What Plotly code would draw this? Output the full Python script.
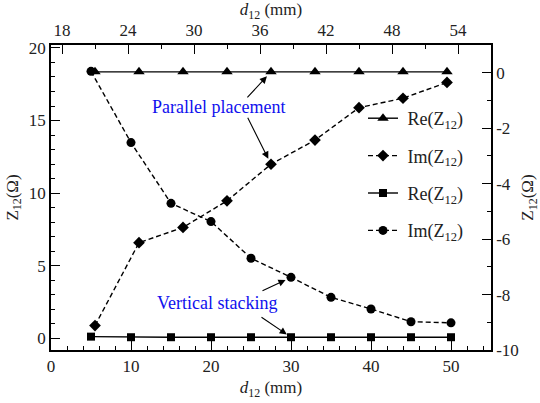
import plotly.graph_objects as go

# ---- data ----
d_parallel = [21, 25, 29, 33, 37, 41, 45, 49, 53]          # top axis (mm)
re_parallel = [18.35, 18.35, 18.35, 18.35, 18.35, 18.35, 18.35, 18.35, 18.35]
im_parallel = [-9.12, -6.13, -5.58, -4.62, -3.30, -2.43, -1.26, -0.92, -0.35]

d_vertical = [5, 10, 15, 20, 25, 30, 35, 40, 45, 50]       # bottom axis (mm)
re_vertical = [0.12, 0.08, 0.08, 0.08, 0.08, 0.08, 0.08, 0.08, 0.08, 0.08]
im_vertical = [0.05, -2.52, -4.71, -5.37, -6.69, -7.38, -8.10, -8.52, -8.98, -9.02]

y2_ticks = [0, -2, -4, -6, -8, -10]
y2_ticklabels = ["0", "-2", "-4", "-6", "-8", "-10"]

FONT = "Liberation Serif"
TXT = "#222"
LW = 1.4
DASH = "5px,3px"
SP = "\u00a0"

fig = go.Figure()
fig.add_trace(go.Scatter(x=d_parallel, y=re_parallel, xaxis="x2", yaxis="y",
                         mode="lines+markers", name=SP + "Re(Z<sub>12</sub>)", legendgroup="a",
                         line=dict(color="black", width=LW),
                         marker=dict(symbol="triangle-up", size=10, color="black")))
fig.add_trace(go.Scatter(x=d_parallel, y=im_parallel, xaxis="x2", yaxis="y2",
                         mode="lines+markers", name=SP + "Im(Z<sub>12</sub>)", legendgroup="b",
                         line=dict(color="black", width=LW, dash=DASH),
                         marker=dict(symbol="diamond", size=9, color="black")))
fig.add_trace(go.Scatter(x=d_vertical, y=re_vertical, xaxis="x", yaxis="y",
                         mode="lines+markers", name=SP + "Re(Z<sub>12</sub>)", legendgroup="c",
                         line=dict(color="black", width=LW),
                         marker=dict(symbol="square", size=8, color="black")))
fig.add_trace(go.Scatter(x=d_vertical, y=im_vertical, xaxis="x", yaxis="y2",
                         mode="lines+markers", name=SP + "Im(Z<sub>12</sub>)", legendgroup="d",
                         line=dict(color="black", width=LW, dash=DASH),
                         marker=dict(symbol="circle", size=9, color="black")))

axis_common = dict(showline=True, linecolor="black", linewidth=1.5, ticks="inside",
                   ticklen=9, tickwidth=1.3, tickcolor="black", showgrid=False,
                   zeroline=False, automargin=False,
                   tickfont=dict(family=FONT, size=17, color=TXT))
minor_common = dict(ticks="inside", ticklen=4, tickwidth=1.2, tickcolor="black", showgrid=False)
title_font = dict(family=FONT, size=17, color=TXT)

fig.update_layout(
    template="none",
    width=540, height=403,
    margin=dict(l=51, r=49, t=45, b=53),
    paper_bgcolor="white", plot_bgcolor="white",
    font=dict(family=FONT, size=17, color=TXT),
    showlegend=True,
    legend=dict(x=(363 - 51) / 440, y=(350 - 100) / 305, xanchor="left", yanchor="top",
                bgcolor="rgba(0,0,0,0)", borderwidth=0, tracegroupgap=11,
                font=dict(family=FONT, size=18, color=TXT)),
    xaxis=dict(range=[0, 55], dtick=10, tick0=0, side="bottom", anchor="y",
               minor=dict(dtick=2, tick0=0, **minor_common),
               title=dict(text="<i>d</i><sub>12</sub> (mm)", standoff=6, font=title_font),
               **axis_common),
    xaxis2=dict(range=[17, 57], dtick=6, tick0=18, side="top", anchor="y", overlaying="x",
                minor=dict(dtick=3, tick0=18, **minor_common),
                title=dict(text="<i>d</i><sub>12</sub> (mm)", standoff=4, font=title_font),
                **axis_common),
    yaxis=dict(range=[-0.8, 20.2], dtick=5, tick0=0, side="left", anchor="x",
               minor=dict(dtick=1, tick0=0, **minor_common),
               title=dict(text="Z<sub>12</sub>(Ω)", standoff=6, font=title_font),
               **axis_common),
    yaxis2=dict(range=[-10, 1], tickmode="array", tickvals=y2_ticks, ticktext=y2_ticklabels,
                side="right", anchor="x", overlaying="y",
                minor=dict(dtick=1, tick0=0, **minor_common),
                title=dict(text="Z<sub>12</sub>(Ω)", standoff=12, font=title_font),
                **axis_common),
)

blue = "#1010ee"
# text labels
fig.add_annotation(x=20.9, y=15.94, xref="x", yref="y", text="Parallel placement",
                   showarrow=False, font=dict(family=FONT, size=18, color=blue))
fig.add_annotation(x=20.8, y=2.44, xref="x", yref="y", text="Vertical stacking",
                   showarrow=False, font=dict(family=FONT, size=18, color=blue))
# arrows
arrow = dict(showarrow=True, arrowhead=2, arrowsize=1.3, arrowwidth=1.1, arrowcolor="black", text="")
fig.add_annotation(x=d_parallel[4], y=re_parallel[4], xref="x2", yref="y", ax=-25, ay=27,
                   standoff=6, **arrow)
fig.add_annotation(x=d_parallel[4], y=im_parallel[4], xref="x2", yref="y2", ax=-24, ay=-48,
                   standoff=6, **arrow)
fig.add_annotation(x=d_vertical[5], y=im_vertical[5], xref="x", yref="y2", ax=-30, ay=14,
                   standoff=6, **arrow)
fig.add_annotation(x=d_vertical[5], y=re_vertical[5], xref="x", yref="y", ax=-31, ay=-21,
                   standoff=5, **arrow)

fig.write_html("out.html")
